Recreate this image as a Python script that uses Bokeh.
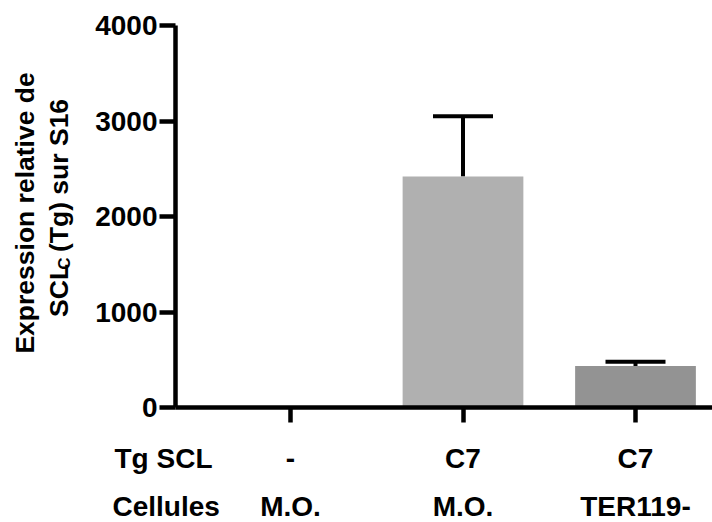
import math
from bokeh.plotting import figure
from bokeh.layouts import column, row
from bokeh.models import (Range1d, FixedTicker, ColumnDataSource, Whisker, TeeHead, Label)
from bokeh.core.properties import value
from bokeh.embed import file_html
from bokeh.resources import INLINE

# ---- data ----
positions = [0, 1, 2]
tg_scl = ["-", "C7", "C7"]
cellules = ["M.O.", "M.O.", "TER119-"]
values = [0, 2420, 435]
errors = [0, 630, 45]
colors = ["#808080", "#B0B0B0", "#939393"]
y_ticks = [0, 1000, 2000, 3000, 4000]
row_titles = ["Tg SCL", "Cellules"]

FONT = "Liberation Sans"

# layout geometry (pixels)
W, H = 712, 522
LEFT_W = 85          # width of the y-title strip
FRAME_L = 175        # frame left edge on the page
TOP_H = 430          # height of the upper row
X0, X1 = -0.6667, 2.4464   # x range of the bar frame

def clean(fig):
    fig.outline_line_color = None
    fig.background_fill_color = "white"
    fig.border_fill_color = "white"
    fig.xgrid.visible = False
    fig.ygrid.visible = False

# ---------- main plot ----------
p = figure(width=W - LEFT_W, height=TOP_H,
           x_range=Range1d(X0, X1), y_range=Range1d(0, 4000),
           output_backend="svg", toolbar_location=None,
           min_border_left=FRAME_L - LEFT_W, min_border_right=0,
           min_border_top=25, min_border_bottom=23)
clean(p)

src = ColumnDataSource(dict(x=positions, top=values, color=colors))
p.vbar(x="x", top="top", width=0.70, bottom=0, source=src,
       fill_color="color", line_color=None)

ex = [x for x, e in zip(positions, errors) if e > 0]
lo = [v for v, e in zip(values, errors) if e > 0]
up = [v + e for v, e in zip(values, errors) if e > 0]
esrc = ColumnDataSource(dict(x=ex, lower=lo, upper=up))
p.add_layout(Whisker(source=esrc, base="x", lower="lower", upper="upper",
                     dimension="height", line_width=4, line_color="black",
                     upper_head=TeeHead(size=60, line_width=4, line_color="black"),
                     lower_head=None))

ya = p.yaxis[0]
ya.ticker = FixedTicker(ticks=y_ticks)
ya.minor_tick_line_color = None
ya.axis_line_width = 4.5
ya.major_tick_line_width = 4.5
ya.major_tick_out = 16
ya.major_tick_in = 0
ya.major_label_standoff = 2
ya.major_label_text_font = FONT
ya.major_label_text_font_style = "bold"
ya.major_label_text_font_size = "28px"
ya.major_label_text_color = "black"

xa = p.xaxis[0]
xa.ticker = FixedTicker(ticks=positions)
xa.minor_tick_line_color = None
xa.axis_line_width = 4.5
xa.major_tick_line_width = 4.5
xa.major_tick_out = 15
xa.major_tick_in = 0
xa.major_label_standoff = 0
xa.major_label_text_color = None
xa.major_label_text_font_size = "1px"

# ---------- y-title strip ----------
lab = figure(width=LEFT_W, height=TOP_H, x_range=Range1d(0, LEFT_W),
             y_range=Range1d(TOP_H, 0), output_backend="svg",
             toolbar_location=None, x_axis_location=None, y_axis_location=None,
             min_border=0)
clean(lab)
ang = math.pi / 2
common = dict(angle=ang, text_font=FONT, text_font_style="bold", text_color="black")
lab.add_layout(Label(x=24, y=211, text="Expression relative de", text_align="center",
                     text_baseline="middle", text_font_size="26.5px", **common))
lab.add_layout(Label(x=58, y=328, text="SCL", text_align="left",
                     text_baseline="alphabetic", text_font_size="26.5px", **common))
lab.add_layout(Label(x=64, y=275, text="C", text_align="left",
                     text_baseline="alphabetic", text_font_size="17px", **common))
lab.add_layout(Label(x=58, y=255, text="(Tg) sur S16", text_align="left",
                     text_baseline="alphabetic", text_font_size="26.5px", **common))

# ---------- category labels strip ----------
px_x = (X1 - X0) / (W - FRAME_L)
bot = figure(width=W, height=H - TOP_H,
             x_range=Range1d(X0 - FRAME_L * px_x, X1), y_range=Range1d(H, TOP_H),
             output_backend="svg", toolbar_location=None,
             x_axis_location=None, y_axis_location=None, min_border=0)
clean(bot)
row_y = [458, 506]
txt_style = dict(text_font=value(FONT), text_font_style="bold",
                 text_font_size="28px", text_color="black",
                 text_baseline="alphabetic")
bot.text(x=positions, y=[row_y[0]] * len(positions), text=tg_scl,
         text_align="center", **txt_style)
bot.text(x=positions, y=[row_y[1]] * len(positions), text=cellules,
         text_align="center", **txt_style)
title_px = [114, 112]
bot.text(x=[X0 + (t - FRAME_L) * px_x for t in title_px], y=row_y, text=row_titles,
         text_align="left", **txt_style)

layout = column(row(lab, p, spacing=0), bot, spacing=0)
open("out.html", "w").write(file_html(layout, INLINE))
